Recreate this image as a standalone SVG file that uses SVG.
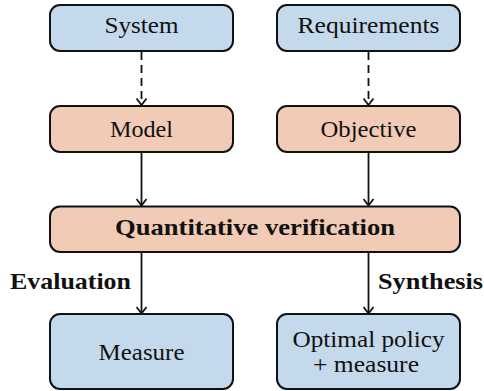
<svg xmlns="http://www.w3.org/2000/svg" width="484" height="391" viewBox="0 0 484 391">
  <style>
    .box { stroke: #111; stroke-width: 2; }
    .blue { fill: #c4d9eb; }
    .peach { fill: #f2cbb6; }
    text { font-family: "Liberation Serif", "DejaVu Serif", serif; font-size: 23px; fill: #111; text-anchor: middle; }
    .bold { font-weight: bold; }
    .edge { stroke: #111; stroke-width: 1.8; fill: none; marker-end: url(#head); }
    .dashed { stroke-dasharray: 8 5; }
  </style>
  <defs>
    <!-- open chevron arrowhead, tip at the end of the line -->
    <marker id="head" viewBox="0 0 12 12" refX="11" refY="6" markerWidth="12" markerHeight="12" markerUnits="userSpaceOnUse" orient="auto">
      <path d="M4.5,1 L11,6 L4.5,11" fill="none" stroke="#111" stroke-width="1.8" stroke-linejoin="miter"/>
    </marker>
  </defs>

  <g id="connectors">
    <line class="edge dashed" x1="141.5" y1="52" x2="141.5" y2="105"/>
    <line class="edge dashed" x1="368.5" y1="52" x2="368.5" y2="105"/>
    <line class="edge" x1="141.5" y1="153" x2="141.5" y2="205.5"/>
    <line class="edge" x1="368.5" y1="153" x2="368.5" y2="205.5"/>
    <line class="edge" x1="141.5" y1="253" x2="141.5" y2="313.5"/>
    <line class="edge" x1="368.5" y1="253" x2="368.5" y2="313.5"/>
    <text class="bold" x="70.5" y="289" textLength="121" lengthAdjust="spacingAndGlyphs">Evaluation</text>
    <text class="bold" x="430.5" y="289" textLength="105" lengthAdjust="spacingAndGlyphs">Synthesis</text>
  </g>

  <g id="system">
    <rect class="box blue" x="50" y="5" width="183" height="46" rx="10"/>
    <text x="141.5" y="33" textLength="74" lengthAdjust="spacingAndGlyphs">System</text>
  </g>
  <g id="requirements">
    <rect class="box blue" x="277" y="5" width="183" height="46" rx="10"/>
    <text x="368.5" y="33" textLength="142" lengthAdjust="spacingAndGlyphs">Requirements</text>
  </g>
  <g id="model">
    <rect class="box peach" x="50" y="106" width="183" height="46" rx="10"/>
    <text x="141.5" y="137" textLength="63" lengthAdjust="spacingAndGlyphs">Model</text>
  </g>
  <g id="objective">
    <rect class="box peach" x="277" y="106" width="183" height="46" rx="10"/>
    <text x="368.5" y="137" textLength="96" lengthAdjust="spacingAndGlyphs">Objective</text>
  </g>
  <g id="verification">
    <rect class="box peach" x="50" y="206.5" width="410" height="45.5" rx="10"/>
    <text class="bold" x="255" y="235" textLength="280" lengthAdjust="spacingAndGlyphs">Quantitative verification</text>
  </g>
  <g id="measure">
    <rect class="box blue" x="50" y="314" width="183" height="75" rx="10"/>
    <text x="141.5" y="360" textLength="86" lengthAdjust="spacingAndGlyphs">Measure</text>
  </g>
  <g id="policy">
    <rect class="box blue" x="277" y="314" width="183" height="75" rx="10"/>
    <text x="368.5" y="347" textLength="152" lengthAdjust="spacingAndGlyphs">Optimal policy</text>
    <text x="366" y="372" textLength="106" lengthAdjust="spacingAndGlyphs">+ measure</text>
  </g>
</svg>
